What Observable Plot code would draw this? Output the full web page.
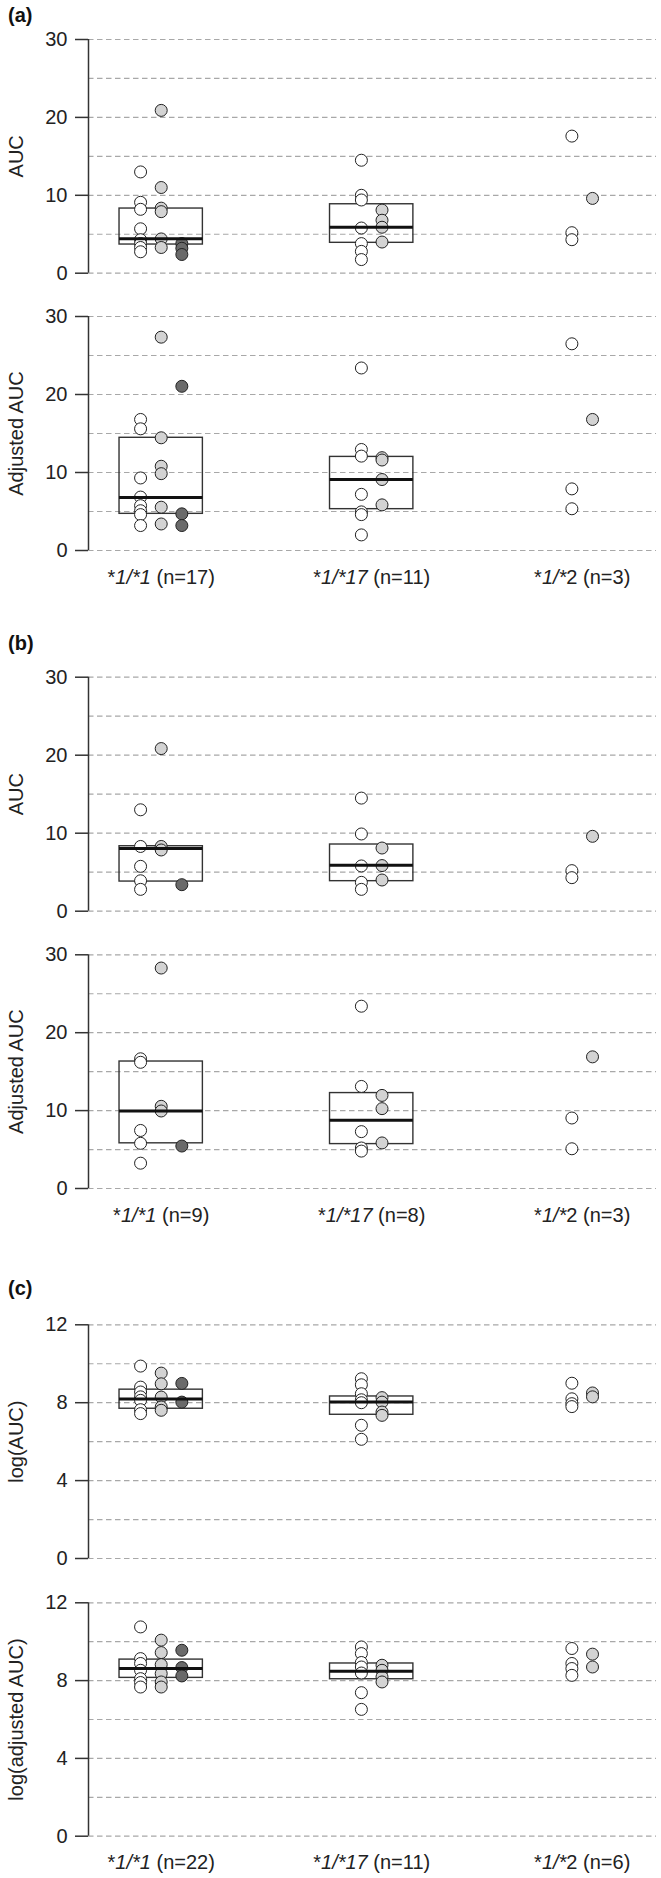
<!DOCTYPE html>
<html><head><meta charset="utf-8">
<script src="https://cdn.jsdelivr.net/npm/d3@7"></script>
<script src="https://cdn.jsdelivr.net/npm/@observablehq/plot@0.6"></script>
<style>
body{margin:0;background:#fff;font-family:"Liberation Sans",Arial,sans-serif;}
#root{position:relative;width:661px;height:1878px;overflow:hidden;}
.panel{position:absolute;left:0;}
.letter{position:absolute;left:8px;font-weight:bold;font-size:20px;line-height:20px;color:#111;}
</style></head><body><div id="root"></div>
<script>
// ---------------- data ----------------
const groups = ["*1/*1", "*1/*17", "*1/*2"];
const nA = [17, 11, 3];
const nB = [9, 8, 3];
const nC = [22, 11, 6];

// (a) AUC
const aAucWhite = [[13.0, 9.1, 8.2, 5.7, 4.3, 3.8, 3.3, 2.75], [14.5, 10.0, 9.4, 5.8, 3.8, 2.8, 1.75], [17.6, 5.2, 4.3]];
const aAucLight = [[20.9, 11.0, 8.35, 7.9, 4.4, 3.3], [8.1, 6.8, 5.9, 4.0], [9.6]];
const aAucDark  = [[3.8, 3.2, 2.4], [], []];
const aAucBox   = [[3.68, 4.41, 8.3], [3.9, 5.9, 8.85]];   // [q1, median, q3]

// (a) Adjusted AUC
const aAdjWhite = [[16.8, 15.6, 9.3, 6.85, 5.75, 5.1, 4.6, 3.2], [23.4, 12.95, 12.1, 7.2, 4.95, 4.6, 2.0], [26.5, 7.9, 5.35]];
const aAdjLight = [[27.35, 14.45, 10.8, 9.85, 5.55, 3.4], [11.9, 11.6, 9.1, 5.85], [16.8]];
const aAdjDark  = [[21.05, 4.7, 3.2], [], []];
const aAdjBox   = [[4.7, 6.8, 14.45], [5.3, 9.1, 12.0]];

// (b) AUC
const bAucWhite = [[13.0, 8.3, 5.75, 3.9, 2.8], [14.5, 9.9, 5.8, 3.7, 2.8], [5.2, 4.3]];
const bAucLight = [[20.85, 8.3, 7.85], [8.1, 5.85, 4.0], [9.6]];
const bAucDark  = [[3.4], [], []];
const bAucBox   = [[3.8, 8.05, 8.33], [3.85, 5.9, 8.55]];

// (b) Adjusted AUC
const bAdjWhite = [[16.65, 16.2, 7.45, 5.8, 3.25], [23.4, 13.1, 7.3, 5.2, 4.8], [9.05, 5.1]];
const bAdjLight = [[28.3, 10.55, 9.95], [11.95, 10.25, 5.85], [16.9]];
const bAdjDark  = [[5.45], [], []];
const bAdjBox   = [[5.8, 9.95, 16.3], [5.7, 8.75, 12.25]];

// (c) log(AUC)
const cAucWhite = [[9.88, 8.8, 8.55, 8.3, 8.12, 7.64, 7.44], [9.23, 8.92, 8.46, 8.15, 8.0, 6.84, 6.12], [9.0, 8.2, 7.95, 7.8]];
const cAucLight = [[9.52, 8.97, 8.29, 7.78, 7.61], [8.26, 8.03, 7.52, 7.35], [8.5, 8.3]];
const cAucDark  = [[8.99, 8.03], [], []];
const cAucBox   = [[7.69, 8.19, 8.67], [7.38, 8.03, 8.32]];

// (c) log(adjusted AUC)
const cAdjWhite = [[10.76, 9.13, 8.88, 8.53, 8.1, 7.9, 7.67], [9.73, 9.39, 8.93, 8.7, 8.39, 7.38, 6.52], [9.65, 8.88, 8.62, 8.27]];
const cAdjLight = [[10.08, 9.44, 8.82, 8.36, 7.93, 7.67], [8.79, 8.53, 8.19, 7.93], [9.36, 8.7]];
const cAdjDark  = [[9.56, 8.67, 8.24], [], []];
const cAdjBox   = [[8.14, 8.62, 9.08], [8.07, 8.48, 8.88]];

// ---------------- drawing ----------------
const FONT = '"Liberation Sans", Arial, sans-serif';
const fills = {white: "#ffffff", light: "#d3d3d3", dark: "#6a6a6a"};
const xDomain = [0.6546, 3.353];
const step = 0.098;     // spacing of sub-columns inside a group (group units)
const halfBox = 0.198;  // half width of box (group units)

function rows(white, light, dark) {
  const out = [];
  groups.forEach((g, i) => {
    const sets = [["white", white[i]], ["light", light[i]], ["dark", dark[i]]].filter(d => d[1].length);
    sets.forEach(([c, vals], k) => {
      const off = (k - (sets.length - 1) / 2) * step;
      vals.forEach(v => out.push({x: i + 1 + off, v, c}));
    });
  });
  return out;
}

const root = document.getElementById("root");

function panel({top, height, mt, mb, ymax, tickStep, gridStep, label, white, light, dark, box, ns}) {
  const pts = rows(white, light, dark);
  const boxes = box.map((b, i) => ({g: i + 1, q1: b[0], med: b[1], q3: b[2]}));
  const marks = [
    Plot.ruleY(d3.range(0, ymax + 0.001, gridStep), {stroke: "#a8a8a8", strokeDasharray: "5.5,3.5", strokeWidth: 1.2}),
    Plot.ruleX([xDomain[0]], {y1: 0, y2: ymax, stroke: "#333", strokeWidth: 1.5}),
    Plot.axisY(d3.range(0, ymax + 0.001, tickStep), {tickSize: 13, tickPadding: 8, label, labelArrow: "none", labelAnchor: "center", labelOffset: 80, stroke: "#333", strokeWidth: 1.5}),
    Plot.rect(boxes, {x1: d => d.g - halfBox, x2: d => d.g + halfBox, y1: "q1", y2: "q3", fill: "none", stroke: "#333", strokeWidth: 1.4, inset: 0}),
    Plot.dot(pts, {x: "x", y: "v", r: 6, fill: d => fills[d.c], stroke: "#222", strokeWidth: 1}),
    Plot.ruleY(boxes, {x1: d => d.g - halfBox, x2: d => d.g + halfBox, y: "med", stroke: "#111", strokeWidth: 3})
  ];
  if (ns) marks.push(Plot.axisX([1, 2, 3], {tickSize: 0, tickPadding: 19, label: null, tickFormat: d => `${groups[d - 1]} (n=${ns[d - 1]})`}));
  const svg = Plot.plot({
    width: 661, height, marginLeft: 88, marginRight: 5, marginTop: mt, marginBottom: mb,
    style: {fontFamily: FONT, fontSize: "20px", color: "#222", background: "transparent", overflow: "visible"},
    x: {domain: xDomain, axis: null},
    y: {domain: [0, ymax], axis: null},
    marks
  });
  // remove any label arrow
  d3.select(svg).selectAll('g[aria-label="y-axis label"] text').each(function() {
    const t = d3.select(this);
    t.text(t.text().replace(/\s*[↑↓→←]\s*/g, ""));
  });
  // italic allele parts in category labels
  if (ns) {
    d3.select(svg).selectAll('g[aria-label="x-axis tick label"] text').each(function(d, i) {
      const t = d3.select(this);
      const full = t.text();
      const g = groups[i];
      t.text(null);
      t.append("tspan").text("*");
      if (g === "*1/*2") {
        t.append("tspan").attr("font-style", "italic").text("1/*");
        t.append("tspan").text(full.slice(4));
      } else {
        t.append("tspan").attr("font-style", "italic").text(g.slice(1));
        t.append("tspan").text(full.slice(g.length));
      }
    });
  }
  const wrap = document.createElement("div");
  wrap.className = "panel";
  wrap.style.top = top + "px";
  wrap.appendChild(svg);
  root.appendChild(wrap);
}

function letter(txt, top) {
  const d = document.createElement("div");
  d.className = "letter";
  d.style.top = top + "px";
  d.textContent = txt;
  root.appendChild(d);
}

panel({top: 0, height: 290, mt: 39, mb: 17.3, ymax: 30, tickStep: 10, gridStep: 5, label: "AUC", white: aAucWhite, light: aAucLight, dark: aAucDark, box: aAucBox});
panel({top: 290, height: 300, mt: 26, mb: 40, ymax: 30, tickStep: 10, gridStep: 5, label: "Adjusted AUC", white: aAdjWhite, light: aAdjLight, dark: aAdjDark, box: aAdjBox, ns: nA});
panel({top: 590, height: 330, mt: 86.7, mb: 9.3, ymax: 30, tickStep: 10, gridStep: 5, label: "AUC", white: bAucWhite, light: bAucLight, dark: bAucDark, box: bAucBox});
panel({top: 920, height: 310, mt: 34.3, mb: 42, ymax: 30, tickStep: 10, gridStep: 5, label: "Adjusted AUC", white: bAdjWhite, light: bAdjLight, dark: bAdjDark, box: bAdjBox, ns: nB});
panel({top: 1230, height: 340, mt: 94.3, mb: 12, ymax: 12, tickStep: 4, gridStep: 2, label: "log(AUC)", white: cAucWhite, light: cAucLight, dark: cAucDark, box: cAucBox});
panel({top: 1570, height: 308, mt: 32.3, mb: 42.3, ymax: 12, tickStep: 4, gridStep: 2, label: "log(adjusted AUC)", white: cAdjWhite, light: cAdjLight, dark: cAdjDark, box: cAdjBox, ns: nC});

letter("(a)", 5);
letter("(b)", 633);
letter("(c)", 1278);
</script></body></html>
